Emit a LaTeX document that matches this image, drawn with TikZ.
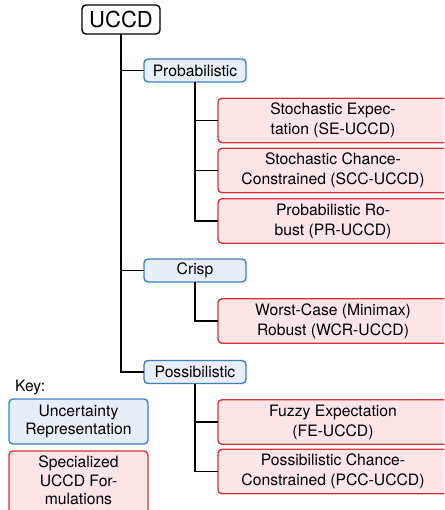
\documentclass[tikz,border=0pt]{standalone}
\usepackage{fontspec}
\setmainfont{TeX Gyre Heros}
\definecolor{bluefill}{HTML}{E7EEF7}
\definecolor{blueline}{HTML}{3A80C3}
\definecolor{redfill}{HTML}{FBE5E6}
\definecolor{redline}{HTML}{D8333B}
\begin{document}
\begin{tikzpicture}[x=1pt,y=-1pt,
  every node/.style={inner sep=0pt,outer sep=0pt,font=\fontsize{15.7}{20}\selectfont},
  rootbox/.style={draw=black,line width=1.4pt,rounded corners=4pt,fill=white,
    minimum width=78pt,minimum height=29pt,font=\fontsize{22}{24}\selectfont},
  repbox/.style={draw=blueline,fill=bluefill,line width=1.4pt,rounded corners=4pt,
    minimum width=102pt,minimum height=23pt},
  formbox/.style={draw=redline,fill=redfill,line width=1.4pt,rounded corners=4pt,
    minimum width=230pt,minimum height=44.5pt,align=center,anchor=west},
  keyrep/.style={draw=blueline,fill=bluefill,line width=1.4pt,rounded corners=4pt,
    minimum width=139pt,minimum height=45pt,align=center,font=\fontsize{15.7}{18.5}\selectfont},
  keyform/.style={draw=redline,fill=redfill,line width=1.4pt,rounded corners=4pt,
    minimum width=139pt,inner ysep=5pt,align=center,anchor=north,
    font=\fontsize{15.7}{18.5}\selectfont,text depth=20pt},
  link/.style={draw=black,line width=1.8pt}
]
\useasboundingbox (0,0) rectangle (444,510);
\begin{scope}
\clip (0,0) rectangle (444,510);
% nodes
\node[rootbox] (uccd) at (121,19.5) {UCCD};
\node[repbox] (prob) at (195,70.5) {Probabilistic};
\node[repbox] (crisp) at (195,270.5) {Crisp};
\node[repbox] (poss) at (195,372) {Possibilistic};

\node[formbox] (se) at (218,120.5) {Stochastic Expec-\\tation (SE-UCCD)};
\node[formbox] (scc) at (218,170.5) {Stochastic Chance-\\Constrained (SCC-UCCD)};
\node[formbox] (pr) at (218,221) {Probabilistic Ro-\\bust (PR-UCCD)};
\node[formbox] (wcr) at (218,321) {Worst-Case (Minimax)\\Robust (WCR-UCCD)};
\node[formbox] (fe) at (218,422) {Fuzzy Expectation\\(FE-UCCD)};
\node[formbox] (pcc) at (218,471.5) {Possibilistic Chance-\\Constrained (PCC-UCCD)};

\node[anchor=base west] (key) at (15,391) {Key:};
\node[keyrep] (krep) at (78.5,421.5) {Uncertainty\\Representation};
\node[keyform] (kform) at (78.5,451) {Specialized\\UCCD For-\\mulations};

% connectors
\draw[link] (uccd.south) |- (poss.west);
\draw[link] (uccd.south |- prob.west) -- (prob.west);
\draw[link] (uccd.south |- crisp.west) -- (crisp.west);

\draw[link] (prob.south) |- (pr.west);
\draw[link] (prob.south |- se.west) -- (se.west);
\draw[link] (prob.south |- scc.west) -- (scc.west);

\draw[link] (crisp.south) |- (wcr.west);

\draw[link] (poss.south) |- (pcc.west);
\draw[link] (poss.south |- fe.west) -- (fe.west);
\end{scope}
\end{tikzpicture}
\end{document}
